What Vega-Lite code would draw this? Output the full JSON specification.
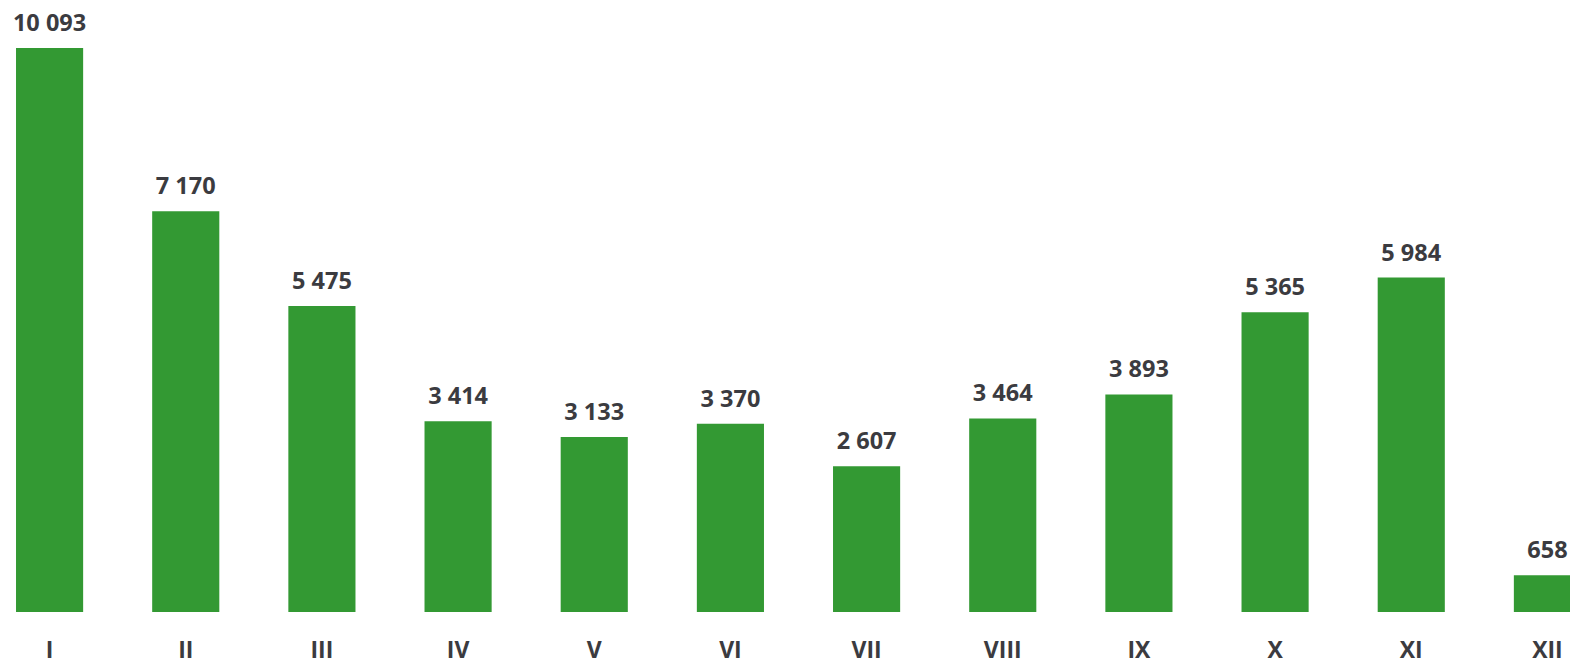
{
  "$schema": "https://vega.github.io/schema/vega-lite/v6.json",
  "autosize": "none",
  "padding": {"left": 0, "top": 0, "right": 0, "bottom": 52},
  "width": 1570,
  "height": 612,
  "background": "white",
  "config": {
    "view": {"stroke": null},
    "locale": {"number": {"decimal": ",", "thousands": " ", "grouping": [3], "currency": ["", ""]}},
    "font": "Open Sans"
  },
  "data": {
    "values": [
      {"month": "I", "value": 10093},
      {"month": "II", "value": 7170},
      {"month": "III", "value": 5475},
      {"month": "IV", "value": 3414},
      {"month": "V", "value": 3133},
      {"month": "VI", "value": 3370},
      {"month": "VII", "value": 2607},
      {"month": "VIII", "value": 3464},
      {"month": "IX", "value": 3893},
      {"month": "X", "value": 5365},
      {"month": "XI", "value": 5984},
      {"month": "XII", "value": 658}
    ]
  },
  "encoding": {
    "x": {
      "field": "month", "type": "nominal", "sort": null,
      "scale": {"paddingInner": 0.507, "paddingOuter": 0.1176, "range": [0, 1597]},
      "axis": {"title": null, "domain": false, "ticks": false, "labelAngle": 0,
               "labelFont": "Open Sans", "labelFontWeight": "bold", "labelFontSize": 23,
               "labelColor": "#3b3b40", "labelPadding": 38, "labelBaseline": "middle"}
    },
    "y": {
      "field": "value", "type": "quantitative",
      "scale": {"domain": [0, 10952], "nice": false},
      "axis": null
    }
  },
  "layer": [
    {"mark": {"type": "bar", "color": "#339933", "clip": true}},
    {
      "mark": {"type": "text", "baseline": "alphabetic", "dy": -17, "font": "Open Sans",
               "fontWeight": "bold", "fontSize": 23.5, "color": "#3b3b40"},
      "encoding": {"text": {"field": "value", "type": "quantitative", "format": ",d"}}
    }
  ]
}
